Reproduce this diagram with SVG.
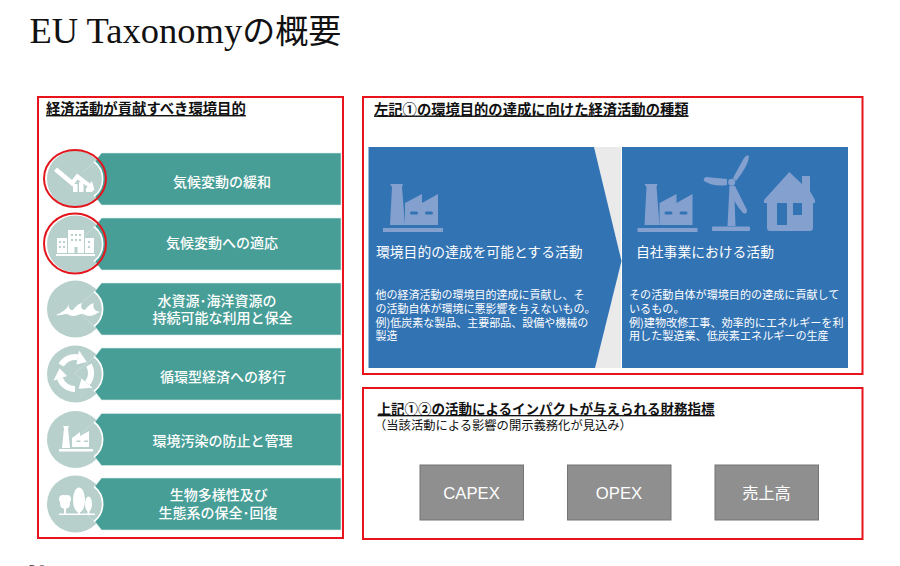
<svg xmlns="http://www.w3.org/2000/svg" xmlns:xlink="http://www.w3.org/1999/xlink" width="900" height="566" viewBox="0 0 900 566">
<style>
text{font-family:"Noto Sans CJK JP","Liberation Sans",sans-serif}
.frame{fill:none;stroke:#e8131b;stroke-width:2}
.head{font-weight:700;text-decoration:underline;fill:#111}
.band{fill:#479e96}
.disc{fill:#b7d0cc}
.fold{stroke:#c8dcd9;stroke-width:1;fill:none}
.ring{fill:none;stroke:#e2161c;stroke-width:2}
.bt{fill:#fff;font-size:14px;font-weight:500;text-anchor:middle}
.ic{fill:#fff}
.hole{fill:#b7d0cc}
.panel{fill:#3273b4}
.pi{fill:#84a0cf}
.ph{fill:#3273b4}
.pt{fill:#fff;font-size:13.8px}
.pb{fill:#fff;font-size:11px}
.gb{fill:#8f8f8f;stroke:#747474;stroke-width:1}
.gt{fill:#fff;text-anchor:middle}
</style>
<defs>
<path id="bandshape" d="M101.500,-26 H341 V26 H101.500 L94.500,17 A22,22 0 0 0 94.500,-17 Z" stroke="#d8ebe8" stroke-width="0.600"/>
<path id="edge" d="M94,-17.500 A22,22 0 0 1 94,17.500" fill="none" stroke="#fff" stroke-width="1.600"/>
<path id="arc" d="M-13.900,-8 A16,16 0 0 1 2.800,-15.800" fill="none" stroke="#fff" stroke-width="6"/>
<polygon id="tip" points="1.500,-8.400 4,-22.600 11.800,-11" fill="#fff"/>
<g id="factory">
<polygon points="390,184 403,184 402,187 405,225 390,225 392,187"/>
<polygon points="405,203 422,194 422,203 438,194 438,225 405,225"/>
<rect x="383" y="228" width="60" height="4"/>
<rect class="ph" x="410" y="211.500" width="8" height="3" rx="1.500"/>
<rect class="ph" x="425" y="211.500" width="8" height="3" rx="1.500"/>
</g>
</defs>

<g id="title"><text x="29.500" y="43" fill="#111" style="font-family:'Liberation Serif','Noto Sans CJK JP',serif"><tspan font-size="36.500">EU Taxonomy</tspan><tspan font-size="33">の概要</tspan></text></g>

<g id="box-left">
<rect class="frame" x="38" y="97" width="305" height="441"/>
<text class="head" x="46" y="114" font-size="14.350">経済活動が貢献すべき環境目的</text>
</g>

<g id="goal-1">
<circle class="disc" cx="75.500" cy="179" r="28.500"/>
<path class="fold" d="M82,173 L94,162"/>
<use xlink:href="#bandshape" class="band" y="179"/><use xlink:href="#edge" y="179"/>
<path class="ic" d="M54,171 L57,167.500 L72,180 L77,173.500 L90,183.500 L92,181 L94.500,190.500 L85.500,189.500 L87.500,186.500 L77.500,179.500 L72.500,186.500 Z"/>
<rect class="ic" x="73" y="184" width="4.500" height="8"/><rect class="ic" x="79" y="182" width="4.500" height="10"/><rect class="ic" x="86" y="189" width="6.500" height="3"/>
<ellipse class="ring" cx="75" cy="178.500" rx="31" ry="28.500"/>
<text class="bt" x="222" y="187" font-size="14">気候変動の緩和</text>
</g>

<g id="goal-2">
<circle class="disc" cx="75.500" cy="244" r="28.500"/>
<path class="fold" d="M82,238 L94,227"/>
<use xlink:href="#bandshape" class="band" y="244"/><use xlink:href="#edge" y="244"/>
<rect class="ic" x="57" y="238" width="10" height="15"/><rect class="ic" x="68" y="230" width="16" height="23"/><rect class="ic" x="85" y="238" width="9" height="15"/><rect class="ic" x="56" y="254" width="39" height="2"/>
<g class="hole"><rect x="59" y="241" width="2" height="2"/><rect x="63" y="241" width="2" height="2"/><rect x="59" y="246" width="2" height="2"/><rect x="63" y="246" width="2" height="2"/><rect x="71" y="234" width="2" height="2"/><rect x="75" y="234" width="2" height="2"/><rect x="79" y="234" width="2" height="2"/><rect x="71" y="239" width="2" height="2"/><rect x="75" y="239" width="2" height="2"/><rect x="79" y="239" width="2" height="2"/><rect x="74.500" y="247" width="3" height="6"/><rect x="88" y="241" width="2" height="2"/><rect x="88" y="246" width="2" height="2"/></g>
<ellipse class="ring" cx="75" cy="243.500" rx="31" ry="30"/>
<text class="bt" x="222" y="248">気候変動への適応</text>
</g>

<g id="goal-3">
<circle class="disc" cx="75.500" cy="309" r="28.500"/>
<path class="fold" d="M82,303 L94,292 M82,315 L94,326"/>
<use xlink:href="#bandshape" class="band" y="309"/><use xlink:href="#edge" y="309"/>
<path class="ic" d="M56,315 C60,313 66,311 69,304 C68,308 70,310 73,310 C75,307 78,304 82,303 C80,307 82,310 85,310 C87,307 90,304 94,303 C92,308 95,311 100,312 C96,313 94,316 90,316 C86,316 84,314 82,314 C79,314 77,316 73,316 C70,316 68,314 66,314 C63,314 60,316 56,315 Z"/>
<text class="bt" x="217" y="306">水資源･海洋資源の</text>
<text class="bt" x="222.500" y="323">持続可能な利用と保全</text>
</g>

<g id="goal-4">
<circle class="disc" cx="75.500" cy="374" r="28.500"/>
<path class="fold" d="M75,373 L94,357 M75,373 L94,391"/>
<use xlink:href="#bandshape" class="band" y="374"/><use xlink:href="#edge" y="374"/>
<g transform="translate(75,373)"><use xlink:href="#arc"/><use xlink:href="#tip"/><g transform="rotate(120)"><use xlink:href="#arc"/><use xlink:href="#tip"/></g><g transform="rotate(240)"><use xlink:href="#arc"/><use xlink:href="#tip"/></g></g>
<text class="bt" x="223" y="382">循環型経済への移行</text>
</g>

<g id="goal-5">
<circle class="disc" cx="75.500" cy="439.500" r="28.500"/>
<path class="fold" d="M82,433 L94,422"/>
<use xlink:href="#bandshape" class="band" y="439.500"/><use xlink:href="#edge" y="439.500"/>
<polygon class="ic" points="63,426 69,426 68,428 70,448 62,448 64,428"/>
<polygon class="ic" points="72,438 80,432 80,436 89,431 89,447 72,447"/>
<rect class="ic" x="59" y="449" width="34" height="2.500"/>
<rect class="hole" x="76.500" y="440.500" width="4" height="1.500"/><rect class="hole" x="84" y="440.500" width="4" height="1.500"/>
<text class="bt" x="222.500" y="446">環境汚染の防止と管理</text>
</g>

<g id="goal-6">
<circle class="disc" cx="75.500" cy="504" r="28.500"/>
<path class="fold" d="M82,510 L94,521"/>
<use xlink:href="#bandshape" class="band" y="504"/><use xlink:href="#edge" y="504"/>
<ellipse class="ic" cx="79" cy="500" rx="6" ry="12.500"/><rect class="ic" x="78" y="505" width="2" height="9"/>
<circle class="ic" cx="63" cy="499" r="4"/><circle class="ic" cx="67" cy="499" r="4"/><circle class="ic" cx="65" cy="504" r="5"/><rect class="ic" x="64" y="504" width="2" height="10"/>
<ellipse class="ic" cx="88.500" cy="504" rx="3.500" ry="7.500"/><rect class="ic" x="87.500" y="506" width="2" height="8"/>
<rect class="ic" x="59" y="513.500" width="36" height="1.500"/>
<text class="bt" x="218.800" y="500">生物多様性及び</text>
<text class="bt" x="218" y="518">生態系の保全･回復</text>
</g>

<g id="box-top">
<rect class="frame" x="363" y="97" width="499.500" height="277"/>
<text class="head" x="374" y="114.500" font-size="14.300">左記①の環境目的の達成に向けた経済活動の種類</text>
</g>

<g id="gap"><polygon points="594,147 621,147 621,368 595,368 621.500,261" fill="#eaeaea"/></g>

<g id="activity-enabling">
<polygon class="panel" points="368.500,147 594,147 621.500,261 595,368 368.500,368"/>
<use xlink:href="#factory" class="pi"/>
<text class="pt" x="376" y="257">環境目的の達成を可能とする活動</text>
<text class="pb" x="375.500" y="299">他の経済活動の環境目的達成に貢献し、そ</text>
<text class="pb" x="375.500" y="313">の活動自体が環境に悪影響を与えないもの。</text>
<text class="pb" x="375.500" y="327">例)低炭素な製品、主要部品、設備や機械の</text>
<text class="pb" x="375.500" y="340">製造</text>
</g>

<g id="activity-own">
<rect class="panel" x="622" y="147" width="226" height="221"/>
<use xlink:href="#factory" class="pi" x="254.500"/>
<g class="pi">
<polygon points="729.500,186 734,186 735.500,226 727.500,226"/>
<rect x="712" y="226.500" width="38" height="4.500" rx="1"/>
<path d="M733,178 L744,158 Q748,153 749,157 Q748,166 736,181 Z"/>
<path d="M727,179 L706,177 Q703,178 704,181 Q714,187 727,185 Z"/>
<path d="M735,186 L747,210 Q747,215 743,213 Q732,201 730,187 Z"/>
<circle cx="731.700" cy="182.300" r="3.500"/>
<path d="M789.300,172 L802,184 V176 Q802,176 803,176 H809 Q810,176 810,177 V191 L815,200 V203 H813 V228 Q813,231 810,231 H770 Q767,231 767,228 V203 H764 V200 Z"/>
</g>
<rect class="ph" x="777" y="203" width="10" height="22"/>
<rect class="ph" x="793" y="203" width="9" height="12"/>
<text class="pt" x="636" y="257">自社事業における活動</text>
<text class="pb" x="629" y="299" style="font-size:11.100px">その活動自体が環境目的の達成に貢献して</text>
<text class="pb" x="629" y="312.500" style="font-size:11.100px">いるもの。</text>
<text class="pb" x="629" y="327" style="font-size:11.100px">例)建物改修工事、効率的にエネルギーを利</text>
<text class="pb" x="629" y="340" style="font-size:11.100px">用した製造業、低炭素エネルギーの生産</text>
</g>

<g id="box-bottom">
<rect class="frame" x="363" y="388" width="499.500" height="151"/>
<text class="head" x="377.500" y="414" font-size="13.500">上記①②の活動によるインパクトが与えられる財務指標</text>
<text x="374" y="430" font-size="12.300" fill="#111">（当該活動による影響の開示義務化が見込み）</text>
</g>

<g id="metric-capex"><rect class="gb" x="420" y="465" width="103.500" height="55"/><text class="gt" x="471.500" y="499" font-size="16.700" style="font-family:'Liberation Sans',sans-serif">CAPEX</text></g>
<g id="metric-opex"><rect class="gb" x="567.500" y="465" width="103.500" height="55"/><text class="gt" x="619" y="499" font-size="16.700" style="font-family:'Liberation Sans',sans-serif">OPEX</text></g>
<g id="metric-sales"><rect class="gb" x="715" y="465" width="103.500" height="55"/><text class="gt" x="766.500" y="499" font-size="16.200">売上高</text></g>

<g id="page"><text x="29" y="571.500" font-size="11" fill="#222" style="font-family:'Liberation Serif',serif">P. 2</text></g>
<g id="connectors"/>
</svg>
